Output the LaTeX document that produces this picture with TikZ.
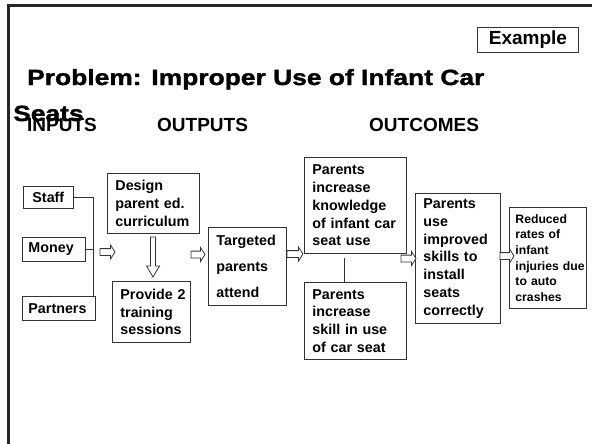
\documentclass[tikz,border=0pt]{standalone}
\usepackage{fontspec}
\setmainfont{Liberation Sans}
\newfontfamily\heavyfont[FakeBold=1.5,FakeStretch=1.2]{Liberation Sans Bold}
\usetikzlibrary{calc}

\tikzset{
  box/.style={draw=black!80, line width=0.9pt, anchor=north west, align=left,
    inner xsep=8pt, inner ysep=0pt,
    font=\bfseries\fontsize{14.3}{17.8}\selectfont},
  smallbox/.style={box, inner xsep=6pt, font=\bfseries\fontsize{12.2}{15.7}\selectfont},
  header/.style={anchor=base west, inner sep=0pt, font=\bfseries\fontsize{19}{22}\selectfont},
  titletext/.style={anchor=base west, inner sep=0pt, font=\heavyfont\fontsize{22}{26}\selectfont},
  wire/.style={draw=black!80, line width=0.9pt},
  hollow/.style={draw=black!80, line width=0.8pt, fill=white, line join=miter},
  pics/rarrow/.style={code={
    \draw[hollow] (0,-3.4) -- ({#1-4.5},-3.4) -- ({#1-4.5},-7) -- (#1,0)
      -- ({#1-4.5},7) -- ({#1-4.5},3.4) -- (0,3.4) -- cycle;}},
  pics/darrow/.style={code={
    \draw[hollow] (-2.5,0) -- (-2.5,{#1-11}) -- (-6.5,{#1-11}) -- (0,#1)
      -- (6.5,{#1-11}) -- (2.5,{#1-11}) -- (2.5,0) -- cycle;}},
}
% keep a line of a box label on one line, even when it runs past the frame
\newcommand\oneline[1]{\mbox{#1}}

\begin{document}
\begin{tikzpicture}[x=1pt,y=-1pt]
\useasboundingbox (0,0) rectangle (592,444);
\fill[white] (0,0) rectangle (592,444);

% slide frame
\draw[line width=2.8pt, black!85, line join=miter] (8.5,444) -- (8.5,5.5) -- (592,5.5);

% heading
\node[draw=black!80, line width=0.9pt, anchor=north west, minimum width=101pt,
  minimum height=25pt, inner sep=0pt, font=\bfseries\fontsize{19}{22}\selectfont]
  (example) at (477,27) {Example};
\node[titletext] (title) at (27,85) {Problem: Improper Use of Infant Car};
\node[titletext] (titlecont) at (13,121) {Seats};

\node[header] (hin)  at (27,131)  {INPUTS};
\node[header] (hout) at (157,131) {OUTPUTS};
\node[header] (hoc)  at (369,131) {OUTCOMES};

% inputs
\node[box, inner xsep=9pt, text width=32pt, minimum height=22pt] (staff) at (23,186) {Staff};
\node[box, inner xsep=6pt, text width=51pt, minimum height=24pt] (money) at (22,237) {Money};
\node[box, inner xsep=6pt, text width=61pt, minimum height=24pt] (partners) at (22,296) {Partners};
\coordinate (bus) at (93,0);
\draw[wire] (staff.east) -| (partners.north -| bus);
\draw[wire] (money.east) -- (money.east -| bus);

% outputs
\node[box, text width=76pt, minimum height=60pt] (design) at (107,173)
  {Design\\\oneline{parent ed.}\\curriculum};
\node[box, text width=62pt, minimum height=61pt] (provide) at (112,281)
  {\oneline{Provide 2}\\training\\sessions};
\node[box, text width=62pt, minimum height=78pt,
  font=\bfseries\fontsize{14.3}{26}\selectfont] (targeted) at (208,227)
  {Targeted\\parents\\attend};

% outcomes
\node[box, text width=86pt, minimum height=96pt] (know) at (304,157)
  {Parents\\increase\\knowledge\\\oneline{of infant car}\\\oneline{seat use}};
\node[box, text width=86pt, minimum height=77pt] (skill) at (304,282)
  {Parents\\increase\\\oneline{skill in use}\\\oneline{of car seat}};
\draw[wire] ($(know.south)+(-11,4)$) -- ($(skill.north)+(-11,0)$);
\node[box, text width=69pt, minimum height=130pt] (use) at (415,193)
  {Parents\\use\\improved\\\oneline{skills to}\\install\\seats\\correctly};
\node[smallbox, text width=65pt, minimum height=101pt] (reduced) at (509,207)
  {Reduced\\\oneline{rates of}\\infant\\\oneline{injuries due}\\\oneline{to auto}\\crashes};

% block arrows
\pic at (100,252) {rarrow=15};
\pic at (153,237) {darrow=40};
\pic at (191,254.5) {rarrow=14};
\pic at (287,254) {rarrow=16};
\pic at (401,258.5) {rarrow=15};
\pic at (500,256) {rarrow=14};
\end{tikzpicture}
\end{document}
